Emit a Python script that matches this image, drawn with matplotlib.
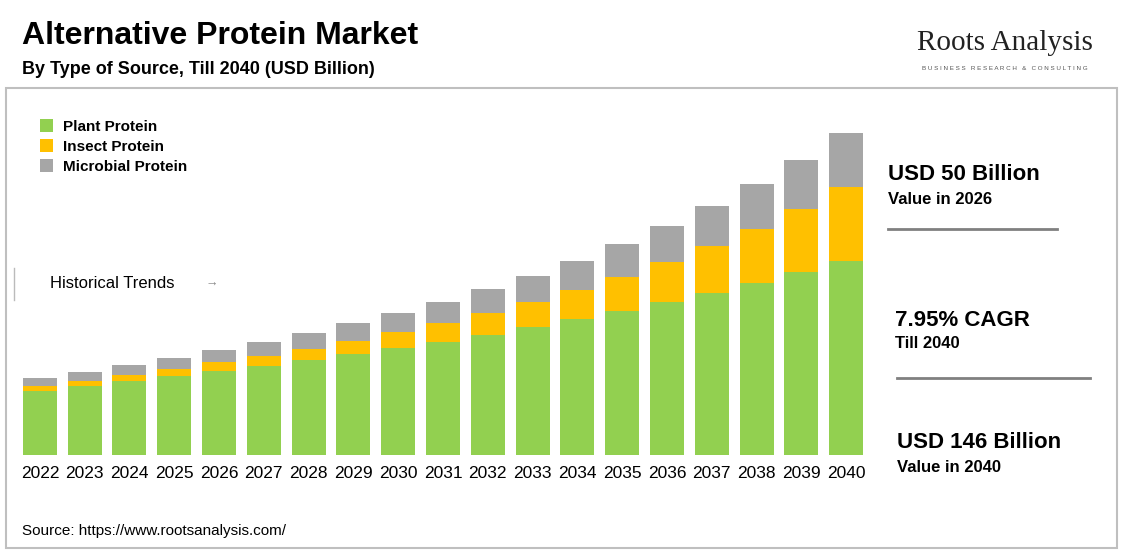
import matplotlib
matplotlib.use("Agg")
import matplotlib.pyplot as plt
from matplotlib.patches import Rectangle
from matplotlib.lines import Line2D

years = [str(y) for y in range(2022, 2041)]
plant = [29.0,31.3,33.6,35.8,38.1,40.4,43.1,45.8,48.5,51.2,54.4,58.0,61.7,65.3,69.4,73.5,78.0,83.0,88.0]
insect = [2.3,2.3,2.7,3.2,4.1,4.5,5.0,5.9,7.3,8.6,10.0,11.3,13.1,15.4,18.1,21.3,24.5,28.6,33.6]
microbial = [3.6,4.1,4.5,5.0,5.4,6.3,7.3,8.2,8.6,9.5,10.9,11.8,13.1,15.0,16.3,18.1,20.4,22.2,24.5]
series = ["Plant Protein", "Insect Protein", "Microbial Protein"]
colors = ["#92d050", "#ffc000", "#a6a6a6"]

plt.rcParams['font.family'] = ['Liberation Sans', 'DejaVu Sans']
W, H = 1123, 553
fig = plt.figure(figsize=(W/100, H/100), dpi=100)

def fx(px): return px / W
def fy(py): return 1 - py / H

fig.patches.append(Rectangle((fx(6), fy(548)), fx(1111), (548-88)/H, transform=fig.transFigure,
                             fill=False, edgecolor="#bfbfbf", linewidth=1.5))

fig.text(fx(22), fy(36), "Alternative Protein Market", fontsize=23, fontweight="bold", va="center")
fig.text(fx(22), fy(69), "By Type of Source, Till 2040 (USD Billion)", fontsize=13, fontweight="bold", va="center")
fig.text(fx(1005), fy(43), "Roots Analysis", fontsize=21, family=['Liberation Serif'], ha="center", va="center", color="#222222")
fig.text(fx(1005), fy(69), "B U S I N E S S   R E S E A R C H   &   C O N S U L T I N G", fontsize=4.5, ha="center", va="center", color="#555555")
fig.text(fx(22), fy(531), "Source: https://www.rootsanalysis.com/", fontsize=11, va="center")

ax = fig.add_axes([fx(13), fy(455), fx(860), (455-100)/H])
x = range(len(years))
bottom = [0]*len(years)
for vals, name, c in zip([plant, insect, microbial], series, colors):
    ax.bar(x, vals, 0.76, bottom=bottom, color=c, label=name)
    bottom = [b+v for b, v in zip(bottom, vals)]
ax.set_xlim(-0.6, len(years)-0.4)
ax.set_ylim(0, 146*355/322)
ax.set_xticks(list(x))
ax.set_xticklabels(years, fontsize=12.5)
ax.tick_params(length=0, pad=8)
ax.set_yticks([])
for s in ax.spines.values():
    s.set_visible(False)
ax.legend(loc="upper left", bbox_to_anchor=(0.015, 0.985), frameon=False,
          prop={'size': 11, 'weight': 'bold'},
          handlelength=0.9, handleheight=0.9, labelspacing=0.35, handletextpad=0.6)

fig.text(fx(50), fy(284), "Historical Trends", fontsize=12, va="center")
fig.text(fx(206), fy(284), "→", fontsize=9, va="center", color="#888888")
fig.add_artist(Line2D([fx(14), fx(14)], [fy(268), fy(300)], color="#bbbbbb", lw=1))

fig.text(fx(888), fy(174), "USD 50 Billion", fontsize=16, fontweight="bold", va="center")
fig.text(fx(888), fy(199), "Value in 2026", fontsize=12, fontweight="bold", va="center")
fig.add_artist(Line2D([fx(888), fx(1057)], [fy(229), fy(229)], color="#808080", lw=2))
fig.text(fx(895), fy(320), "7.95% CAGR", fontsize=16, fontweight="bold", va="center")
fig.text(fx(895), fy(344), "Till 2040", fontsize=12, fontweight="bold", va="center")
fig.add_artist(Line2D([fx(897), fx(1090)], [fy(378), fy(378)], color="#808080", lw=2))
fig.text(fx(897), fy(443), "USD 146 Billion", fontsize=16, fontweight="bold", va="center")
fig.text(fx(897), fy(468), "Value in 2040", fontsize=12, fontweight="bold", va="center")

fig.savefig("out.png", dpi=100)
